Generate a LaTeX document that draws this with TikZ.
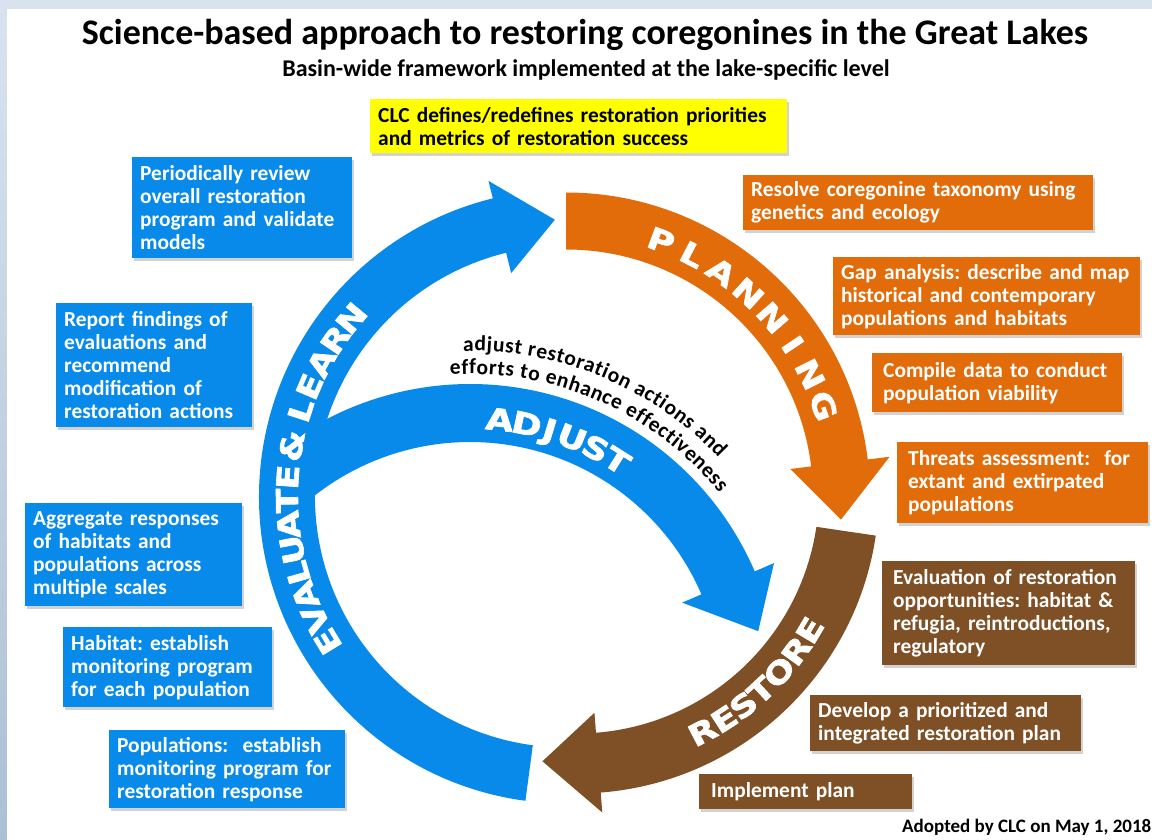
\documentclass[tikz,border=0pt]{standalone}
\usepackage{fontspec}
\setmainfont{Carlito}
\newfontfamily\bandfamily{DejaVu Sans}[BoldFeatures={FakeBold=2}]
\usetikzlibrary{calc,shadows,decorations.text}

\definecolor{clcblue}{RGB}{8,138,234}
\definecolor{clcorange}{RGB}{227,108,10}
\definecolor{clcbrown}{RGB}{127,80,38}
\definecolor{clcyellow}{RGB}{255,255,0}
\definecolor{bgtop}{RGB}{216,227,239}
\definecolor{bgbottom}{RGB}{172,192,212}

\newcommand{\boxfont}{\fontsize{21.4}{23}\selectfont\bfseries\frenchspacing}
\newcommand{\bandfont}{\bandfamily\fontsize{30}{30}\selectfont\bfseries}
\newcommand{\curvefont}{\fontsize{21.5}{23}\selectfont\bfseries}

\begin{document}
\begin{tikzpicture}[x=1pt, y=1pt,
		box/.style={anchor=north west, inner xsep=8pt, inner ysep=0pt, align=left, font=\boxfont, text=white,
			drop shadow={shadow xshift=2pt, shadow yshift=-3pt, opacity=0.35}},
		bluebox/.style={box, fill=clcblue},
		orangebox/.style={box, fill=clcorange},
		brownbox/.style={box, fill=clcbrown},
		bandletter/.style={font=\bandfont, text=white, inner sep=0pt, text height=21.9pt, text depth=0pt},
		curvetext/.style={decorate, decoration={text effects along path, text align=left, text={#1},
			text effects/.cd, text along path, characters={font=\curvefont, text=black},
			character widths={font=\curvefont, inner xsep=0.3pt}}}]
		%%%%% START %%%%%
		\useasboundingbox (0,0) rectangle (1152,-840);
		
		\fill[bgtop] (0,0) rectangle (1152,-9);
		\shade[top color=bgtop, bottom color=bgbottom] (0,0) rectangle (7,-840);
		\fill[white] (7,-9) rectangle (1152,-840);
		
		\coordinate (cm) at (566,-496.5);
		\coordinate (cb) at (577,-491.5);
		\coordinate (ca) at (470,-694);
		
		% evaluate & learn
		\fill[clcblue] ($(cm)+(262.4:307)$) arc[start angle=262.4, end angle=103.8, radius=307pt]
			-- ($(cm)+(103.8:325)$) -- ($(cm)+(92.3:277)$) -- ($(cm)+(103.8:230)$)
			-- ($(cm)+(103.8:251)$) arc[start angle=103.8, end angle=262.4, radius=251pt] -- cycle;
		
		% adjust
		\fill[clcblue] ($(ca)+(131:310)$) arc[start angle=131, end angle=23.3, radius=310pt]
			-- ($(ca)+(23.3:331)$) -- ($(ca)+(12.3:295)$) -- ($(ca)+(23.3:231)$)
			-- ($(ca)+(23.3:252)$) arc[start angle=23.3, end angle=131, radius=252pt] -- cycle;
		
		% planning
		\fill[clcorange] ($(cm)+(90:304)$) arc[start angle=90, end angle=7, radius=304pt]
			-- ($(cm)+(7:326)$) -- ($(cm)+(-4.8:276)$) -- ($(cm)+(7:226)$)
			-- ($(cm)+(7:247)$) arc[start angle=7, end angle=90, radius=247pt] -- cycle;
		
		% restore
		\fill[clcbrown] ($(cb)+(-8.4:302)$) arc[start angle=-8.4, end angle=-85.5, radius=302pt]
			-- ($(cb)+(-85.5:322)$) -- ($(cb)+(-97.3:272)$) -- ($(cb)+(-85.5:222)$)
			-- ($(cb)+(-85.5:242)$) arc[start angle=-85.5, end angle=-8.4, radius=242pt] -- cycle;
		
		\foreach \ch/\a [count=\i] in {P/69.6,L/62.4,A/55.3,N/48.1,N/40.9,I/33.8,N/26.6,G/19.4}
			\node[bandletter, rotate=\a-90, xscale=1.2] (plan\i) at ($(cm)+(\a:273)$) {\ch};
		
		\foreach \ch/\a [count=\i] in {E/211.3,V/206.1,A/200.8,L/195.9,U/191.0,A/185.8,T/180.9,E/176.0,\&/169.5,L/162.0,E/156.8,A/151.3,R/145.8,N/140.3}
			\node[bandletter, rotate=\a-90, xscale=1.2] (eval\i) at ($(cm)+(\a:279)$) {\ch};
		
		\foreach \ch/\a [count=\i] in {R/-62.4,E/-57.1,S/-52.1,T/-47.2,O/-41.8,R/-36.0,E/-30.8}
			\node[bandletter, rotate=\a+90, xscale=1.2] (rest\i) at ($(cb)+(\a:271)$) {\ch};
		
		\foreach \ch/\a [count=\i] in {A/83.8,D/78.1,J/73.2,U/68.3,S/62.9,T/57.8}
			\node[bandletter, rotate=\a-90, xscale=1.2] (adj\i) at ($(ca)+(\a:276)$) {\ch};
		
		\path[curvetext={adjust restoration actions and}]
			($(ca)+(91.2:343)$) arc[start angle=91.2, end angle=20, radius=343pt];
		\path[curvetext={efforts to enhance effectiveness}]
			($(ca)+(93.6:320)$) arc[start angle=93.6, end angle=20, radius=320pt];
		
		\node[font=\fontsize{36}{40}\selectfont\bfseries, anchor=base] (title) at (585,-45)
			{Science-based approach to restoring coregonines in the Great Lakes};
		\node[font=\fontsize{24}{28}\selectfont\bfseries, anchor=base] (subtitle) at (586,-77)
			{Basin-wide framework implemented at the lake-specific level};
		
		\node[box, fill=clcyellow, text=black, minimum width=417pt, minimum height=54pt, text width=401pt] (priorities) at (370,-99)
			{CLC defines/redefines restoration priorities\\and metrics of restoration success};
		
		\node[bluebox, minimum width=220pt, minimum height=101pt, text width=204pt] (review) at (132,-157)
			{Periodically review\\overall restoration\\program and validate\\models};
		\node[bluebox, minimum width=196pt, minimum height=124pt, text width=180pt] (report) at (56,-303)
			{Report findings of\\evaluations and\\recommend\\modification of\\restoration actions};
		\node[bluebox, minimum width=217pt, minimum height=103pt, text width=201pt] (aggregate) at (25,-503)
			{Aggregate responses\\of habitats and\\populations across\\multiple scales};
		\node[bluebox, minimum width=209pt, minimum height=80pt, text width=193pt] (habitat) at (63,-627)
			{Habitat: establish\\monitoring program\\for each population};
		\node[bluebox, minimum width=236pt, minimum height=78pt, text width=220pt] (populations) at (109,-730)
			{Populations:~ establish\\monitoring program for\\restoration response};
		
		\node[orangebox, minimum width=350pt, minimum height=55pt, text width=334pt] (taxonomy) at (743,-175)
			{Resolve coregonine taxonomy using\\genetics and ecology};
		\node[orangebox, minimum width=307pt, minimum height=78pt, text width=291pt] (gap) at (833,-257)
			{Gap analysis: describe and map\\historical and contemporary\\populations and habitats};
		\node[orangebox, minimum width=250pt, minimum height=59pt, text width=234pt] (compile) at (872,-353)
			{\hspace*{3pt}Compile data to conduct\\\hspace*{3pt}population viability};
		\node[orangebox, minimum width=251pt, minimum height=81pt, text width=235pt] (threats) at (897,-442)
			{\hspace*{3pt}Threats assessment:~ for\\\hspace*{3pt}extant and extirpated\\\hspace*{3pt}populations};
		
		\node[brownbox, minimum width=253pt, minimum height=104pt, text width=237pt] (opportunities) at (882,-561)
			{\hspace*{3pt}Evaluation of restoration\\\hspace*{3pt}opportunities: habitat \&\\\hspace*{3pt}refugia, reintroductions,\\\hspace*{3pt}regulatory};
		\node[brownbox, minimum width=271pt, minimum height=56pt, text width=255pt] (develop) at (810,-695)
			{Develop a prioritized and\\integrated restoration plan};
		\node[brownbox, minimum width=213pt, minimum height=35pt, text width=197pt] (implement) at (699,-774)
			{\hspace*{4pt}Implement plan};
		
		\node[font=\fontsize{19}{22}\selectfont\bfseries, anchor=base west, inner sep=0pt] (adopted) at (902,-832)
			{Adopted by CLC on May 1, 2018};
		%%%%% END %%%%%
	\end{tikzpicture}
\end{document}
